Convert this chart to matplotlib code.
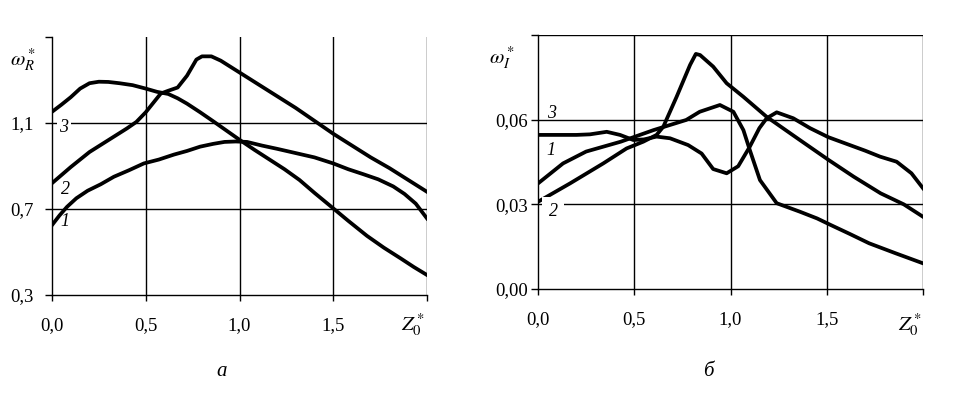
import matplotlib
matplotlib.use("Agg")
import matplotlib.pyplot as plt

plt.rcParams['font.family'] = ['Liberation Serif', 'DejaVu Serif']
plt.rcParams['mathtext.fontset'] = 'stix'

# panel a: omega_R*
xa1 = [0, 0.04, 0.08, 0.13, 0.19, 0.26, 0.33, 0.41, 0.49, 0.57, 0.65, 0.72, 0.79, 0.86, 0.92, 0.98,
       1.04, 1.12, 1.2, 1.3, 1.4, 1.5, 1.58, 1.66, 1.74, 1.82, 1.88, 1.94, 2.0]
ya1 = [0.625, 0.67, 0.71, 0.75, 0.785, 0.815, 0.85, 0.88, 0.912, 0.93, 0.953, 0.97, 0.99, 1.003, 1.012, 1.014,
       1.012, 0.995, 0.98, 0.96, 0.94, 0.912, 0.885, 0.862, 0.838, 0.805, 0.77, 0.725, 0.656]
xa2 = [0, 0.1, 0.2, 0.3, 0.4, 0.45, 0.5, 0.58, 0.62, 0.67, 0.72, 0.77, 0.80, 0.85, 0.90, 1.0,
       1.1, 1.2, 1.3, 1.4, 1.5, 1.6, 1.7, 1.8, 1.9, 2.0]
ya2 = [0.82, 0.895, 0.965, 1.02, 1.075, 1.105, 1.15, 1.237, 1.25, 1.265, 1.32, 1.395, 1.41, 1.41, 1.39, 1.335,
       1.28, 1.225, 1.17, 1.11, 1.05, 0.995, 0.94, 0.89, 0.835, 0.78]
xa3 = [0, 0.05, 0.10, 0.15, 0.20, 0.25, 0.30, 0.36, 0.43, 0.50, 0.56, 0.62, 0.67, 0.72, 0.79, 0.86, 0.93,
       1.0, 1.08, 1.16, 1.24, 1.32, 1.40, 1.50, 1.58, 1.68, 1.77, 1.86, 1.93, 2.0]
ya3 = [1.152, 1.185, 1.22, 1.26, 1.285, 1.292, 1.291, 1.285, 1.276, 1.26, 1.245, 1.235, 1.215, 1.19, 1.15, 1.108, 1.065,
       1.022, 0.975, 0.93, 0.885, 0.835, 0.775, 0.703, 0.645, 0.575, 0.52, 0.47, 0.43, 0.393]

# panel b: omega_I*
xb1 = [0, 0.13, 0.25, 0.43, 0.6, 0.77, 0.84, 0.945, 1.015, 1.067, 1.10, 1.153, 1.24, 1.36, 1.45,
       1.52, 1.62, 1.72, 1.86, 2.0]
yb1 = [0.0374, 0.0445, 0.0487, 0.0522, 0.0563, 0.0599, 0.0628, 0.0652, 0.0628, 0.0563, 0.0493, 0.0386, 0.0304,
       0.0274, 0.025, 0.0227, 0.0195, 0.0162, 0.0126, 0.0091]
xb2 = [0, 0.166, 0.339, 0.46, 0.547, 0.616, 0.651, 0.72, 0.79, 0.82, 0.842, 0.91, 0.98, 1.067, 1.188,
       1.36, 1.51, 1.64, 1.78, 1.9, 2.0]
yb2 = [0.0309, 0.0374, 0.0445, 0.0498, 0.0522, 0.0546, 0.0575, 0.0681, 0.0794, 0.0833, 0.0829, 0.0788, 0.0729,
       0.0681, 0.061, 0.0528, 0.0457, 0.0398, 0.0339, 0.030, 0.0256]
xb3 = [0, 0.1, 0.2, 0.27, 0.357, 0.426, 0.495, 0.55, 0.616, 0.686, 0.78, 0.85, 0.91, 0.98, 1.04, 1.10,
       1.15, 1.188, 1.24, 1.326, 1.413, 1.508, 1.6, 1.7, 1.777, 1.863, 1.94, 2.0]
yb3 = [0.0546, 0.0546, 0.0546, 0.0548, 0.0557, 0.0546, 0.0528, 0.053, 0.054, 0.0534, 0.051, 0.048, 0.0425, 0.041,
       0.0435, 0.0504, 0.057, 0.0605, 0.0626, 0.0605, 0.057, 0.0538, 0.0515, 0.049, 0.0469, 0.0451, 0.041, 0.0357]

a_yticks = [0.3, 0.7, 1.1, 1.5]
a_ylabels = ['0,3', '0,7', '1,1', '']
b_yticks = [0.0, 0.03, 0.06, 0.09]
b_ylabels = ['0,00', '0,03', '0,06', '']
xticks = [0.0, 0.5, 1.0, 1.5, 2.0]
xlabels = ['0,0', '0,5', '1,0', '1,5', '']

W, H = 965, 397
fig = plt.figure(figsize=(W / 100, H / 100), dpi=100)

def px(x0, y0, x1, y1):
    return [x0 / W, 1 - y1 / H, (x1 - x0) / W, (y1 - y0) / H]

axa = fig.add_axes(px(52, 37, 427, 295))
axb = fig.add_axes(px(538, 35, 923, 289))

def style(ax, ylim, yticks, ylabels, hgrid, ypad):
    ax.set_xlim(0, 2.0)
    ax.set_ylim(*ylim)
    for s in ['top', 'right']:
        ax.spines[s].set_visible(False)
    for s in ['left', 'bottom']:
        ax.spines[s].set_linewidth(1.0)
    ax.set_xticks(xticks)
    ax.set_xticklabels(xlabels)
    ax.set_yticks(yticks)
    ax.set_yticklabels(ylabels)
    ax.tick_params(axis='y', direction='out', length=5, width=1, pad=ypad, labelsize=13.5)
    ax.tick_params(axis='x', direction='out', length=4, width=1, pad=12, labelsize=13.5)
    for v in xticks[1:]:
        ax.axvline(v, color='black', lw=1.0, zorder=1)
    for h in hgrid:
        ax.axhline(h, color='black', lw=1.0, zorder=1)

style(axa, (0.3, 1.5), a_yticks, a_ylabels, [0.7, 1.1], 8)
style(axb, (0.0, 0.09), b_yticks, b_ylabels, [0.03, 0.06, 0.09], 2)

lw = 2.7
for x, y in [(xa1, ya1), (xa2, ya2), (xa3, ya3)]:
    axa.plot(x, y, color='black', lw=lw, zorder=3, solid_joinstyle='round')
for x, y in [(xb1, yb1), (xb2, yb2), (xb3, yb3)]:
    axb.plot(x, y, color='black', lw=lw, zorder=3, solid_joinstyle='round')

def ftext(x, y, s, **kw):
    fig.text(x / W, 1 - y / H, s, ha='center', va='center', **kw)

wb = dict(boxstyle='square,pad=0.15', fc='white', ec='none')
ftext(64, 127, '3', fontsize=13, style='italic', bbox=wb, zorder=5)
ftext(65, 189, '2', fontsize=13, style='italic')
ftext(65, 221, '1', fontsize=13, style='italic')
ftext(552, 114, '3', fontsize=13, style='italic')
ftext(551, 151, '1', fontsize=13, style='italic')
ftext(553, 212, '2', fontsize=13, style='italic', bbox=dict(boxstyle='square,pad=0.35', fc='white', ec='none'))

ftext(23, 60, r'$\omega_R^*$', fontsize=15)
ftext(502, 58, r'$\omega_I^*$', fontsize=15)
ftext(413, 325, r'$Z_0^*$', fontsize=15)
ftext(910, 325, r'$Z_0^*$', fontsize=15)

ftext(222, 372, 'а', fontsize=15, style='italic')
ftext(708, 372, 'б', fontsize=15, style='italic')

fig.savefig('out.png', dpi=100)
